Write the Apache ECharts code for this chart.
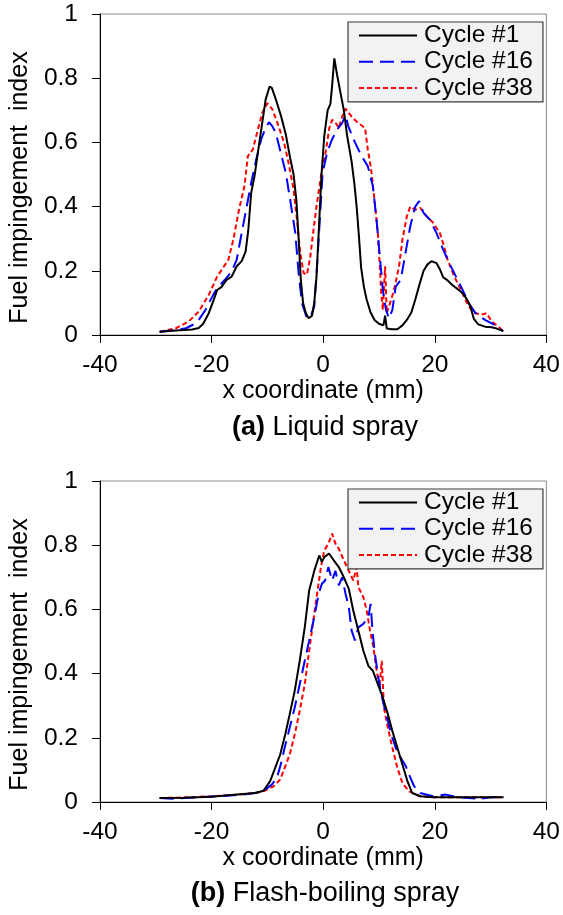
<!DOCTYPE html>
<html>
<head>
<meta charset="utf-8">
<script src="https://cdn.jsdelivr.net/npm/echarts@6/dist/echarts.min.js"></script>
<style>
html,body{margin:0;padding:0;background:#fff;}
#chart{width:563px;height:915px;}
</style>
</head>
<body>
<div id="chart"></div>
<script>
// ---- data ----
const seriesNames = ['Cycle #1', 'Cycle #16', 'Cycle #38'];
const xTicks = [-40, -20, 0, 20, 40];
const yTicks = [0, 0.2, 0.4, 0.6, 0.8, 1];
const xTitle = 'x coordinate (mm)';
const yTitle = 'Fuel impingement  index';
const captionA = ['(a)', 'Liquid spray'];
const captionB = ['(b)', 'Flash-boiling spray'];

// (a) Liquid spray
const liquidC1 = [[-29.3,0.010],[-26.4,0.014],[-23.5,0.017],[-22.3,0.022],[-21.5,0.035],[-20.5,0.068],[-19.6,0.11],[-19.0,0.14],[-18.2,0.15],[-17.3,0.172],[-16.4,0.182],[-15.5,0.214],[-14.6,0.23],[-13.9,0.26],[-13.4,0.33],[-12.9,0.443],[-12.3,0.495],[-11.7,0.568],[-11.1,0.64],[-10.3,0.734],[-9.6,0.774],[-9.2,0.77],[-8.5,0.735],[-7.6,0.685],[-6.7,0.625],[-5.9,0.55],[-5.3,0.50],[-4.8,0.42],[-4.4,0.30],[-4.0,0.17],[-3.6,0.10],[-3.1,0.068],[-2.6,0.052],[-2.0,0.06],[-1.6,0.10],[-1.2,0.18],[-0.8,0.32],[-0.3,0.50],[0.2,0.62],[0.8,0.70],[1.3,0.72],[1.6,0.776],[2.0,0.862],[2.5,0.81],[3.1,0.755],[3.7,0.70],[4.3,0.62],[5.1,0.54],[5.6,0.47],[6.0,0.40],[6.4,0.31],[6.8,0.21],[7.3,0.15],[7.8,0.11],[8.5,0.07],[9.2,0.047],[10.0,0.035],[10.8,0.03],[11.1,0.06],[11.4,0.02],[12.3,0.018],[13.3,0.018],[14.2,0.03],[15.0,0.047],[15.8,0.07],[16.5,0.11],[17.3,0.16],[18.0,0.20],[18.7,0.22],[19.4,0.23],[20.3,0.224],[20.9,0.205],[21.5,0.18],[22.3,0.17],[23.2,0.155],[24.1,0.143],[25.0,0.13],[25.8,0.11],[26.4,0.089],[27.0,0.05],[27.8,0.033],[29.0,0.026],[30.2,0.024],[31.1,0.02],[32.3,0.012]];
const liquidC16 = [[-29.3,0.01],[-26.5,0.015],[-24.6,0.021],[-23.2,0.033],[-22.3,0.047],[-21.2,0.075],[-20.5,0.099],[-19.7,0.125],[-19.0,0.146],[-17.6,0.172],[-16.4,0.198],[-15.5,0.234],[-14.6,0.318],[-13.7,0.40],[-12.9,0.474],[-12.0,0.547],[-11.1,0.61],[-10.3,0.646],[-9.7,0.663],[-9.1,0.65],[-8.5,0.63],[-7.6,0.568],[-6.7,0.505],[-5.9,0.42],[-5.0,0.318],[-4.4,0.193],[-3.8,0.099],[-3.0,0.057],[-2.3,0.055],[-1.6,0.089],[-1.1,0.214],[-0.6,0.36],[-0.1,0.505],[0.7,0.568],[1.6,0.61],[2.5,0.64],[3.4,0.66],[4.0,0.685],[4.5,0.65],[5.7,0.60],[6.9,0.557],[8.0,0.526],[8.9,0.464],[9.5,0.37],[10.1,0.255],[10.7,0.14],[11.25,0.078],[11.8,0.052],[12.4,0.078],[13.0,0.151],[13.9,0.172],[14.75,0.255],[15.6,0.338],[16.5,0.40],[17.2,0.417],[18.0,0.38],[19.1,0.36],[20.3,0.318],[21.5,0.266],[22.6,0.224],[23.8,0.182],[25.0,0.14],[26.1,0.099],[27.3,0.068],[29.0,0.047],[30.8,0.031],[32.2,0.0125]];
const liquidC38 = [[-29.3,0.01],[-26.4,0.021],[-24.1,0.042],[-22.3,0.073],[-20.5,0.125],[-19.0,0.182],[-18.2,0.203],[-17.0,0.234],[-16.1,0.297],[-15.2,0.38],[-14.7,0.42],[-14.1,0.464],[-13.5,0.557],[-12.6,0.578],[-11.7,0.64],[-10.9,0.693],[-10.0,0.722],[-9.1,0.703],[-8.2,0.661],[-7.0,0.599],[-6.2,0.536],[-5.3,0.453],[-4.7,0.36],[-4.1,0.255],[-3.5,0.193],[-2.9,0.188],[-2.3,0.245],[-1.8,0.318],[-1.2,0.40],[-0.3,0.505],[0.5,0.575],[1.1,0.645],[1.6,0.67],[2.1,0.665],[2.8,0.645],[3.4,0.68],[4.0,0.705],[5.1,0.68],[6.3,0.66],[7.5,0.645],[8.0,0.578],[8.6,0.515],[9.2,0.42],[9.8,0.318],[10.2,0.2],[10.4,0.13],[10.7,0.078],[11.1,0.214],[11.4,0.068],[11.8,0.089],[12.7,0.14],[13.6,0.214],[14.2,0.297],[15.0,0.37],[15.6,0.40],[16.5,0.39],[17.4,0.396],[18.5,0.37],[19.7,0.35],[20.9,0.318],[21.5,0.286],[22.3,0.234],[23.5,0.182],[24.7,0.14],[25.8,0.099],[26.7,0.073],[28.2,0.0625],[29.3,0.068],[30.2,0.042],[31.4,0.026],[32.2,0.013]];

// (b) Flash-boiling spray
const flashC1 = [[-29.3,0.0125],[-25,0.013],[-20,0.016],[-15.4,0.023],[-12.2,0.028],[-10.7,0.035],[-9.5,0.065],[-8.6,0.106],[-7.7,0.148],[-6.8,0.21],[-6.0,0.273],[-5.1,0.346],[-4.2,0.44],[-3.3,0.544],[-2.5,0.66],[-1.6,0.72],[-0.7,0.768],[-0.23,0.748],[0.2,0.763],[1.05,0.774],[1.9,0.753],[2.8,0.732],[3.7,0.70],[4.6,0.664],[5.4,0.596],[6.3,0.534],[7.2,0.471],[8.1,0.424],[8.9,0.409],[9.8,0.367],[10.7,0.325],[11.6,0.273],[12.4,0.221],[13.3,0.169],[14.2,0.117],[15.1,0.065],[15.96,0.028],[17.4,0.018],[19.7,0.015],[25,0.015],[32.3,0.015]];
const flashC16 = [[-29.3,0.0125],[-27,0.01],[-24,0.013],[-20,0.017],[-15,0.022],[-12.2,0.028],[-10.7,0.035],[-9.2,0.054],[-8.3,0.075],[-7.6,0.117],[-6.9,0.169],[-6.0,0.231],[-5.1,0.294],[-4.2,0.367],[-3.3,0.44],[-2.5,0.503],[-1.6,0.576],[-0.8,0.649],[-0.23,0.68],[0.35,0.69],[0.94,0.732],[1.6,0.69],[2.2,0.72],[2.8,0.675],[3.4,0.70],[4.0,0.649],[4.6,0.607],[5.1,0.534],[5.7,0.503],[6.3,0.544],[7.2,0.555],[8.1,0.576],[8.5,0.617],[8.8,0.544],[9.2,0.471],[9.8,0.398],[10.4,0.336],[11.3,0.273],[12.2,0.21],[13.0,0.169],[13.9,0.138],[14.8,0.112],[15.4,0.085],[16.3,0.049],[17.4,0.028],[19.7,0.018],[22.0,0.023],[24,0.015],[28.2,0.01],[30,0.015],[32.3,0.015]];
const flashC38 = [[-29.3,0.0125],[-25,0.014],[-20,0.018],[-15,0.023],[-12.2,0.028],[-10.7,0.033],[-8.9,0.049],[-7.7,0.07],[-6.9,0.106],[-6.0,0.148],[-5.1,0.21],[-4.2,0.284],[-3.3,0.367],[-2.5,0.471],[-1.6,0.586],[-1.0,0.659],[-0.4,0.732],[0.2,0.784],[0.94,0.805],[1.6,0.836],[2.2,0.805],[2.8,0.789],[3.7,0.753],[4.6,0.72],[5.4,0.69],[6.0,0.732],[6.3,0.67],[7.2,0.638],[7.8,0.596],[8.4,0.534],[9.0,0.482],[9.5,0.419],[10.1,0.357],[10.5,0.44],[10.9,0.294],[11.6,0.231],[12.4,0.169],[13.3,0.106],[14.2,0.059],[15.4,0.033],[17.4,0.018],[19.7,0.015],[25,0.015],[32.3,0.015]];

// ---- styling ----
const FONT = '"Liberation Sans", Arial, sans-serif';
const colors = ['#000000', '#0000ff', '#ff0000'];
const dashes = ['solid', [14, 7], [5, 3]];
const GRID_TOPS = [14, 481];
const CAPTION_Y = [428, 894];

const chart = echarts.init(document.getElementById('chart'), null, {renderer: 'canvas'});

function makeX(i) {
  return {
    gridIndex: i, type: 'value',
    min: xTicks[0], max: xTicks[xTicks.length - 1], interval: xTicks[1] - xTicks[0],
    axisLine: {show: true, onZero: false, lineStyle: {color: '#000', width: 1}},
    axisTick: {show: true, length: 8, lineStyle: {color: '#000', width: 1}},
    axisLabel: {fontSize: 24.5, color: '#000', margin: 18, fontFamily: FONT},
    splitLine: {show: false},
    name: xTitle, nameLocation: 'middle', nameGap: 42,
    nameTextStyle: {fontSize: 25, color: '#000', fontFamily: FONT}
  };
}
function makeY(i) {
  return {
    gridIndex: i, type: 'value',
    min: yTicks[0], max: yTicks[yTicks.length - 1], interval: yTicks[1] - yTicks[0],
    axisLine: {show: true, onZero: false, lineStyle: {color: '#000', width: 1}},
    axisTick: {show: true, length: 8, lineStyle: {color: '#000', width: 1}},
    axisLabel: {fontSize: 24.5, color: '#000', margin: 22, fontFamily: FONT},
    splitLine: {show: false},
    name: yTitle, nameLocation: 'middle', nameGap: 58,
    nameTextStyle: {fontSize: 25, color: '#000', fontFamily: FONT, padding: [0, 26, 0, 0]}
  };
}
function makeSeries(name, data, k, gi) {
  return {
    name: name, type: 'line', data: data,
    xAxisIndex: gi, yAxisIndex: gi,
    showSymbol: false, symbol: 'none', smooth: false,
    lineStyle: {color: colors[k], width: 2, type: dashes[k]},
    itemStyle: {color: colors[k]},
    z: 3 - k
  };
}
function makeLegend(gi) {
  return {
    orient: 'vertical', left: 348, top: GRID_TOPS[gi] + 8,
    data: seriesNames,
    itemWidth: 58, itemHeight: 14, itemGap: 1.2,
    padding: [1, 10, 1.5, 10],
    backgroundColor: '#f2f2f2', borderColor: '#3a3a3a', borderWidth: 1.2,
    itemStyle: {opacity: 0},
    textStyle: {fontSize: 24.5, color: '#000', fontFamily: FONT, padding: [0, 0, 0, 2]},
    selectedMode: false
  };
}
function caption(parts, y) {
  return {
    type: 'text', x: 325, y: y,
    style: {
      text: '{b|' + parts[0] + '} ' + parts[1],
      font: '27px ' + FONT, fill: '#000',
      align: 'center', verticalAlign: 'middle',
      rich: {b: {fontWeight: 'bold', fontSize: 27, fontFamily: FONT, fill: '#000'}}
    }
  };
}

const option = {
  animation: false,
  backgroundColor: '#ffffff',
  grid: [
    {left: 93, top: GRID_TOPS[0], width: 455, height: 321, show: true, borderColor: '#8a8a8a', borderWidth: 1, backgroundColor: 'transparent'},
    {left: 93, top: GRID_TOPS[1], width: 455, height: 321, show: true, borderColor: '#8a8a8a', borderWidth: 1, backgroundColor: 'transparent'}
  ],
  xAxis: [makeX(0), makeX(1)],
  yAxis: [makeY(0), makeY(1)],
  legend: [makeLegend(0), makeLegend(1)],
  series: [
    makeSeries(seriesNames[0], liquidC1, 0, 0),
    makeSeries(seriesNames[1], liquidC16, 1, 0),
    makeSeries(seriesNames[2], liquidC38, 2, 0),
    makeSeries(seriesNames[0], flashC1, 0, 1),
    makeSeries(seriesNames[1], flashC16, 1, 1),
    makeSeries(seriesNames[2], flashC38, 2, 1)
  ],
  graphic: [caption(captionA, CAPTION_Y[0]), caption(captionB, CAPTION_Y[1])]
};
chart.setOption(option);
</script>
</body>
</html>
